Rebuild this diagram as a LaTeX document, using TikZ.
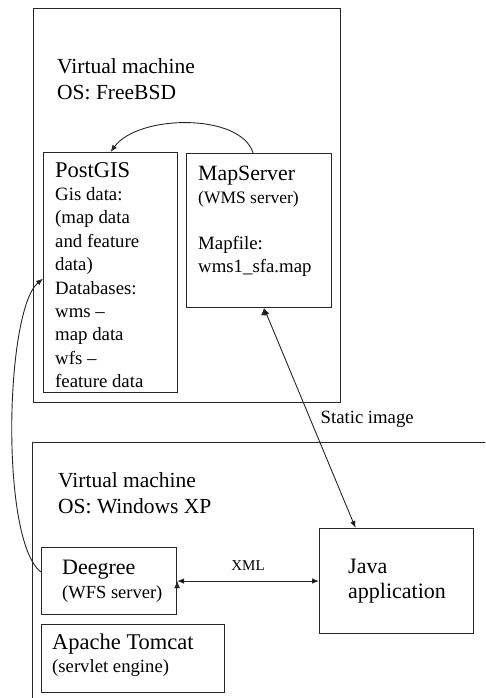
\documentclass[tikz,border=0pt]{standalone}
\usepackage{fontspec}
\setmainfont{Liberation Serif}
\usetikzlibrary{arrows.meta}

\tikzset{
  vmbox/.style={draw=black!85, line width=1.3pt, anchor=north west, inner sep=0pt},
  partbox/.style={draw=black!85, line width=1.1pt, anchor=north west, inner sep=0pt},
  txt/.style={anchor=north west, align=left, inner sep=0pt},
  link/.style={line width=0.9pt, draw=black!85},
}

\begin{document}
\begin{tikzpicture}[x=1pt, y=-1pt, > = {Latex[length=7pt, width=5.5pt]}] % one unit = one pixel of the reference, y grows downwards
  \useasboundingbox (0,0) rectangle (485,698);
  \clip (0,0) rectangle (485,698);

  % the two virtual machines
  \node[vmbox, minimum width=307pt, minimum height=394pt] (fbsd) at (33,8) {};
  \node[vmbox, minimum width=480pt, minimum height=300pt] (winxp) at (32,442) {};
  \node[txt, font=\fontsize{21.5}{26}\selectfont] (fbsdtext) at (57,58) {Virtual machine\\OS: FreeBSD};
  \node[txt, font=\fontsize{21.5}{26}\selectfont] (winxptext) at (58,472) {Virtual machine\\OS: Windows XP};

  % FreeBSD side
  \node[partbox, minimum width=134pt, minimum height=240pt] (pg) at (43,152) {};
  \node[partbox, minimum width=145pt, minimum height=154pt] (ms) at (186,153) {};
  \node[txt, font=\fontsize{18.8}{23.4}\selectfont] (pgtext) at (55,162)
    {{\fontsize{22.5}{23.4}\selectfont PostGIS}\\Gis data:\\(map data\\and feature\\data)\\Databases:\\wms --\\map data\\wfs --\\feature data};
  \node[txt, font=\fontsize{18.8}{23}\selectfont] (mstext) at (198,166)
    {{\fontsize{21.8}{23}\selectfont MapServer}\\{\fontsize{17.5}{23}\selectfont (WMS server)}\\[23pt]Mapfile:\\wms1\_sfa.map};

  % Windows XP side
  \node[partbox, minimum width=135pt, minimum height=67pt] (deegree) at (41,547) {};
  \node[partbox, minimum width=183pt, minimum height=68pt] (tomcat) at (41,624) {};
  \node[partbox, minimum width=154pt, minimum height=105pt] (java) at (319,528) {};
  \node[txt, font=\fontsize{18.5}{24}\selectfont] (deegreetext) at (62,560)
    {{\fontsize{22}{24}\selectfont Deegree}\\(WFS server)};
  \node[txt, font=\fontsize{18.7}{23}\selectfont] (tomcattext) at (52,634)
    {{\fontsize{22.5}{23}\selectfont Apache Tomcat}\\(servlet engine)};
  \node[txt, font=\fontsize{22}{25}\selectfont] (javatext) at (348,559) {Java\\application};

  % connections
  \draw[link, ->] ([xshift=-6pt]ms.north) .. controls +(-12,-40) and +(28,-38) .. (pg.north);
  \draw[link, ->] ([yshift=9pt]deegree.west) .. controls +(-41,-31) and +(-38,32) .. ([yshift=-6pt]pg.west);
  \path[link, <->] ([xshift=5pt]ms.south) edge node[pos=0.505, anchor=west, xshift=10pt, inner sep=0pt, font=\fontsize{18.7}{20}\selectfont] {Static image} ([xshift=-41pt]java.north);
  \path[link, <->] (deegree.east) edge node[midway, above=10pt, inner sep=0pt, font=\fontsize{15}{16}\selectfont] {XML} (java.west);
\end{tikzpicture}
\end{document}
